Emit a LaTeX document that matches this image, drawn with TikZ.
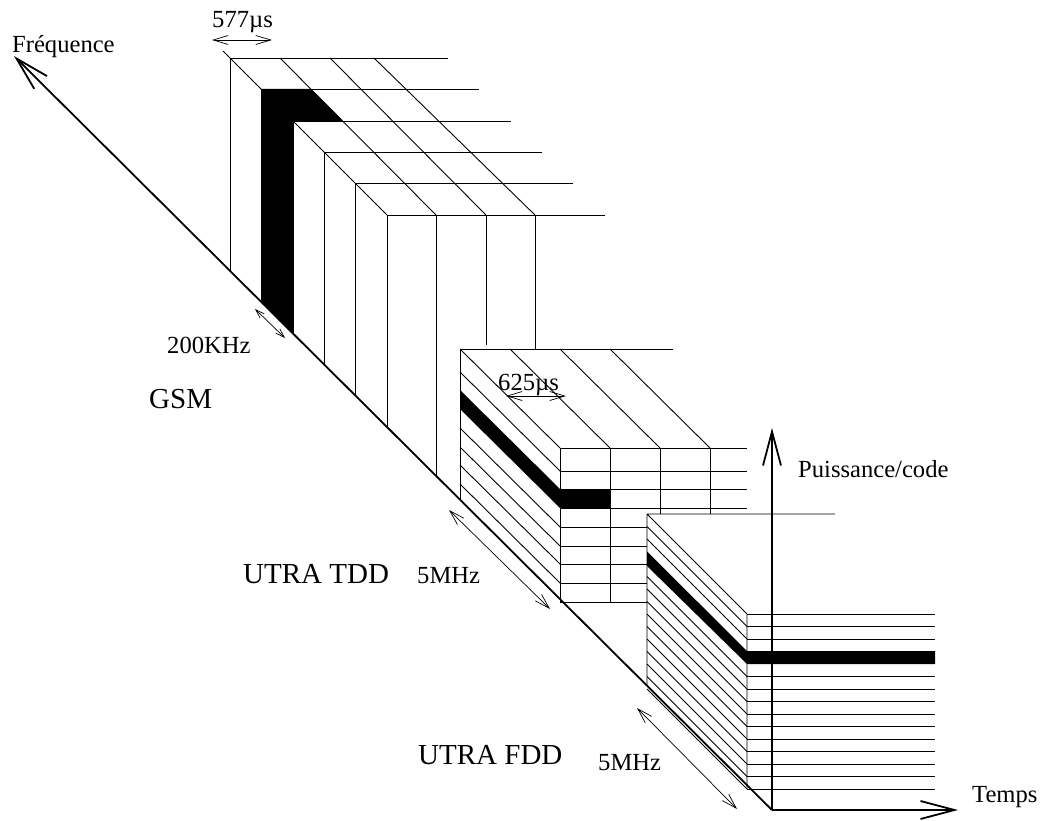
\documentclass[tikz,border=0pt]{standalone}
\usepackage{fontspec}
\setmainfont{Liberation Serif}
\usetikzlibrary{arrows.meta}
\tikzset{grid/.style={line width=0.9bp},axis/.style={line width=1.8bp,-{Straight Barb[length=34bp,width=18bp]}},dim/.style={line width=0.7bp,{Straight Barb[length=15bp,width=9bp]}-{Straight Barb[length=15bp,width=9bp]}},smalldim/.style={line width=0.7bp,{Straight Barb[length=9bp,width=6bp]}-{Straight Barb[length=9bp,width=6bp]}},lab/.style={anchor=base west,inner sep=0pt,font=\fontsize{24.6bp}{29bp}\selectfont},big/.style={lab,font=\fontsize{29bp}{34bp}\selectfont}}

\begin{document}
\begin{tikzpicture}[x=1bp,y=-1bp]
\useasboundingbox (0,0) rectangle (1051,821);
\coordinate (o) at (772,810);
\coordinate (freq) at (14,56);
\coordinate (pow) at (772,428);
\coordinate (time) at (958,810);
% GSM
\fill (261,301.7) -- (261,89) -- (311,89) -- (343,121) -- (293,121) -- (293,333.5) -- cycle;
\draw[grid] (223,51) -- (387,215) (280,58) -- (436,215) (330,58) -- (486,215) (374,58) -- (535,215);
\foreach \y/\xa in {58/230,89/261,121/293,152/324,183/355,215/387} \draw[grid] (\xa,\y) -- ({448+\y-58},\y);
\foreach \xa/\ya in {230/58,261/89,293/121,324/152,355/183,387/215,436/215} \draw[grid] (\xa,\ya) -- (\xa,{56+(\xa-14)*0.99472});
\draw[grid] (486,215) -- (486,345) (535,215) -- (535,349);
% UTRA TDD
\fill (460,390) -- (560,489) -- (610,489) -- (610,508) -- (560,508) -- (460,409) -- cycle;
\draw[grid] (460,349) -- (673,349);
\foreach \xa in {460,510,560,610} \draw[grid] (\xa,349) -- (\xa+100,448);
\draw[grid] (460,349) -- (460,499.7);
\foreach \y in {471,527,546,564,583} \draw[grid] (460,\y-99) -- (560,\y);
\foreach \y in {448,471,489,508} \draw[grid] (560,\y) -- (747,\y);
\foreach \y in {527,546,564,583,602} \draw[grid] (560,\y) -- (647,\y);
\draw[grid] (560,448) -- (560,602) (610,448) -- (610,602) (660,448) -- (660,514) (710,448) -- (710,514);
% UTRA FDD
\fill (647,551.5) -- (747,651) -- (935,651) -- (935,664) -- (747,664) -- (647,566) -- cycle;
\draw[grid] (647,514) -- (835,514) (647,514) -- (747,614) (647,514) -- (647,685.7) (747,614) -- (747,789);
\foreach \k in {1,2,5,6,...,14} \draw[grid] (647,{514+12.5*\k}) -- (747,{614+12.5*\k});
\foreach \k in {0,1,2,5,6,...,14} \draw[grid] (747,{614+12.5*\k}) -- (935,{614+12.5*\k});
% axes
\draw[axis] (o) -- (freq);
\draw[axis] (o) -- (pow);
\draw[axis] (o) -- (time);
\draw[dim] (212,40) -- (272,40);
\draw[smalldim] (255,309) -- (285,338);
\draw[dim] (506,396) -- (566,396);
\draw[dim] (449,510) -- (550,609);
\draw[dim] (637,708) -- (737,809);
\node[lab] (lfreq) at (12,53) {Fréquence};
\node[lab] (lgsmt) at (212,28) {577µs};
\node[lab] (lgsmf) at (167,353) {200KHz};
\node[big] (lgsm) at (149,408) {GSM};
\node[lab] (ltddt) at (498,390) {625µs};
\node[big] (ltdd) at (243,583) {UTRA TDD};
\node[lab] (ltddf) at (417,583) {5MHz};
\node[big] (lfdd) at (418,764) {UTRA FDD};
\node[lab] (lfddf) at (598,770) {5MHz};
\node[lab] (lpow) at (798,477) {Puissance/code};
\node[lab] (ltime) at (972,802) {Temps};
\end{tikzpicture}
\end{document}
